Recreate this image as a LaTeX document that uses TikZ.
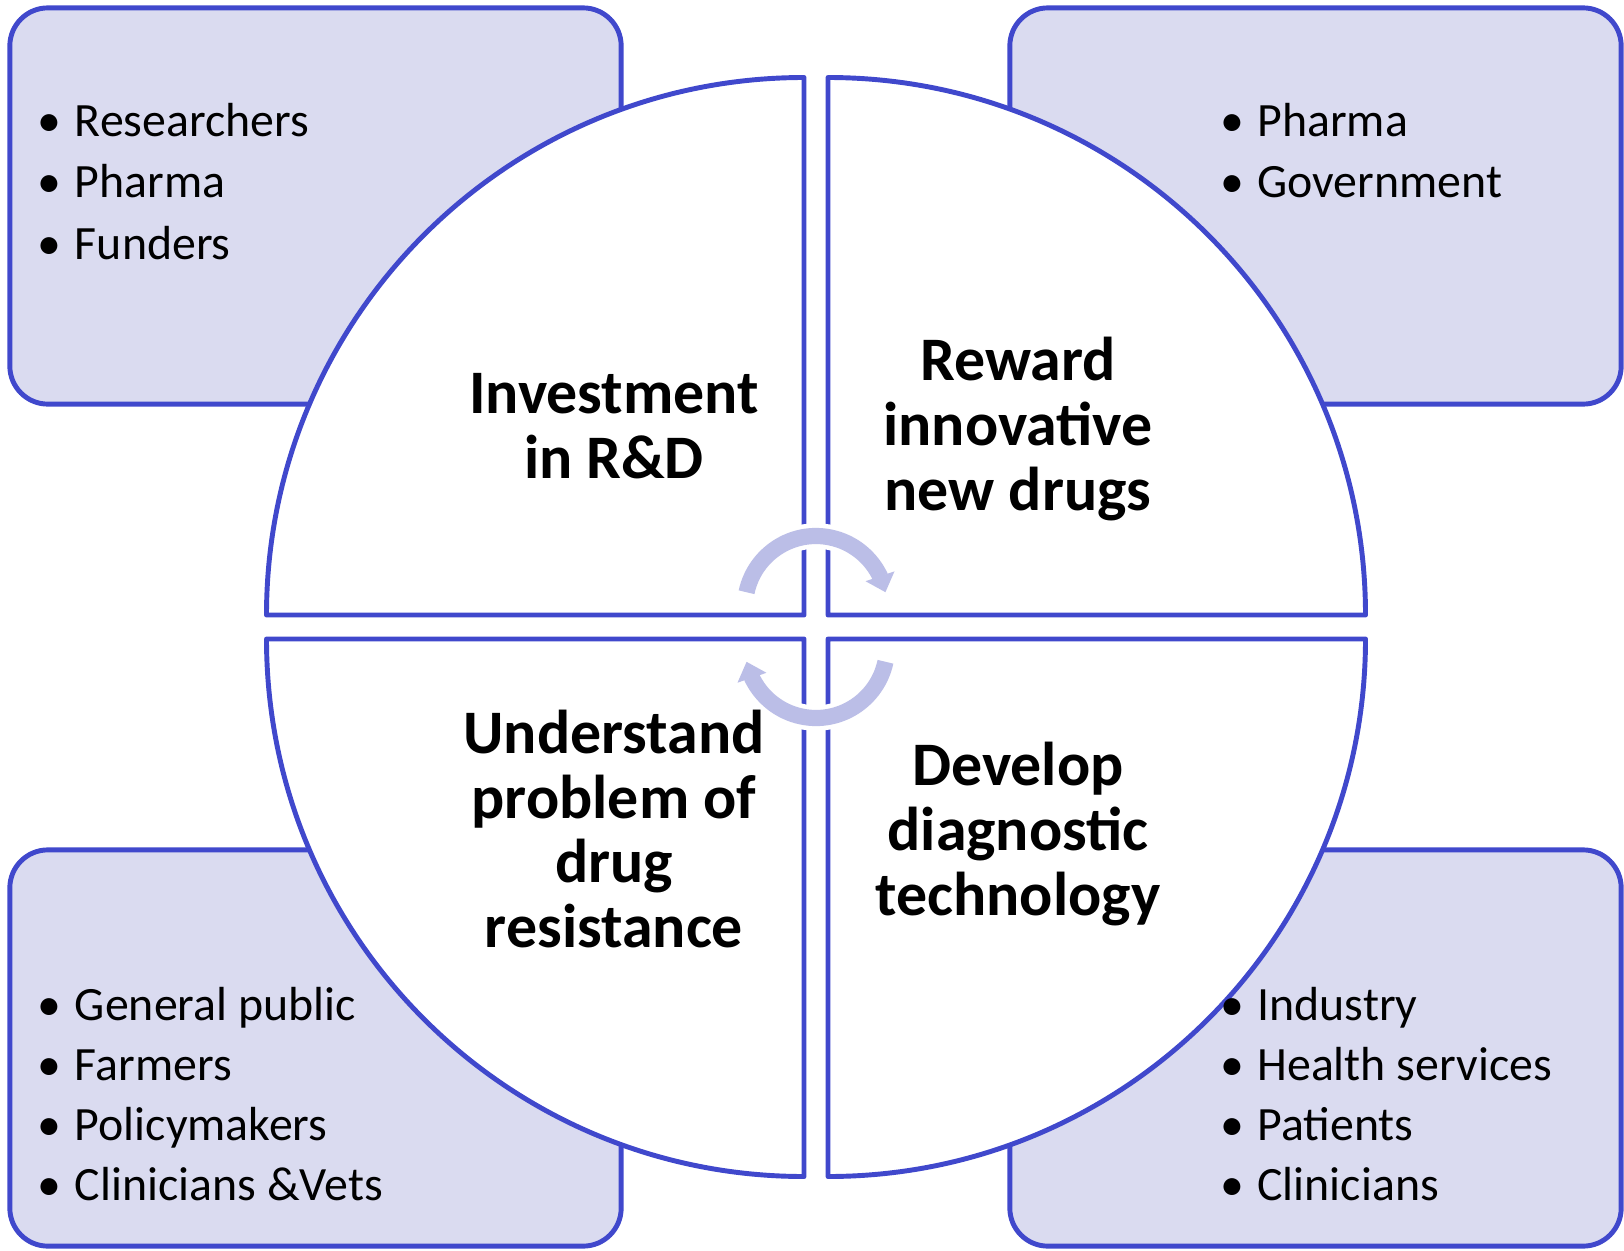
\documentclass[tikz,border=0pt]{standalone}
\usepackage{fontspec}
\setmainfont{Carlito}
\usetikzlibrary{arrows.meta,bending}
\definecolor{ringblue}{RGB}{64,72,204}
\definecolor{boxfill}{RGB}{218,219,240}
\definecolor{cyclec}{RGB}{187,190,231}
\tikzset{
  listbox/.style={draw=ringblue, fill=boxfill, line width=1.4pt, rounded corners=0.38cm,
    minimum width=6.11cm, minimum height=3.96cm, inner sep=0pt},
  quad/.style={draw=ringblue, fill=white, line width=1.4pt, line join=round},
  itemtext/.style={anchor=base west, inner sep=0pt, font=\fontsize{13.6}{17.5}\selectfont},
  hubtext/.style={align=center, inner sep=0pt, font=\fontsize{17.6}{18.4}\selectfont\bfseries},
  cyclearrow/.style={draw=cyclec, line width=4.6pt, -{Triangle[width=8.4pt,length=4.8pt]},
    preaction={draw=white, line width=7.2pt}}
}
\newcommand{\bul}{\makebox[10.6pt][l]{\textbullet}}

\begin{document}
\begin{tikzpicture}[x=0.01cm, y=0.01cm]
  \useasboundingbox (0,0) rectangle (1624,1250);
  % stakeholder boxes
  \node[listbox] (tlbox) at (315.5,1044) {};
  \node[listbox] (trbox) at (1315.5,1044) {};
  \node[listbox] (blbox) at (315.5,202) {};
  \node[listbox] (brbox) at (1315.5,202) {};
  % four quarter discs
  \coordinate (tlc) at (804,635); \coordinate (trc) at (828,635);
  \coordinate (blc) at (804,611); \coordinate (brc) at (828,611);
  \draw[quad] (tlc) -- ++(-537.5,0) arc[start angle=180, end angle=90, radius=537.5] -- cycle;
  \draw[quad] (trc) -- ++(0,537.5) arc[start angle=90, end angle=0, radius=537.5] -- cycle;
  \draw[quad] (blc) -- ++(0,-537.5) arc[start angle=270, end angle=180, radius=537.5] -- cycle;
  \draw[quad] (brc) -- ++(537.5,0) arc[start angle=0, end angle=-90, radius=537.5] -- cycle;
  % cycle arrows
  \coordinate (up) at (816,643); \coordinate (dn) at (816,603);
  \draw[cyclearrow] ([shift={(168:71)}]up) arc[start angle=168, end angle=12, radius=71];
  \draw[cyclearrow] ([shift={(-12:71)}]dn) arc[start angle=-12, end angle=-168, radius=71];
  % quadrant titles
  \node[hubtext] (invest) at (614,824) {Investment\\in R\&D};
  \node[hubtext] (reward) at (1018,821) {Reward\\innovative\\new drugs};
  \node[hubtext] (understand) at (614,421) {Understand\\problem of\\drug\\resistance};
  \node[hubtext] (develop) at (1018,416) {Develop\\diagnostic\\technology};
  % stakeholder lists
  \foreach \t [count=\i] in {Researchers,Pharma,Funders}
    \node[itemtext] (tl\i) at (37,{1175.5-61.5*\i}) {\bul\t};
  \foreach \t [count=\i] in {Pharma,Government}
    \node[itemtext] (tr\i) at (1219.5,{1175.5-61.5*\i}) {\bul\t};
  \foreach \t [count=\i] in {General public,Farmers,Policymakers,Clinicians \&Vets}
    \node[itemtext] (bl\i) at (37,{290-60*\i}) {\bul\t};
  \foreach \t [count=\i] in {Industry,Health services,Patients,Clinicians}
    \node[itemtext] (br\i) at (1219.5,{290-60*\i}) {\bul\t};
\end{tikzpicture}
\end{document}
